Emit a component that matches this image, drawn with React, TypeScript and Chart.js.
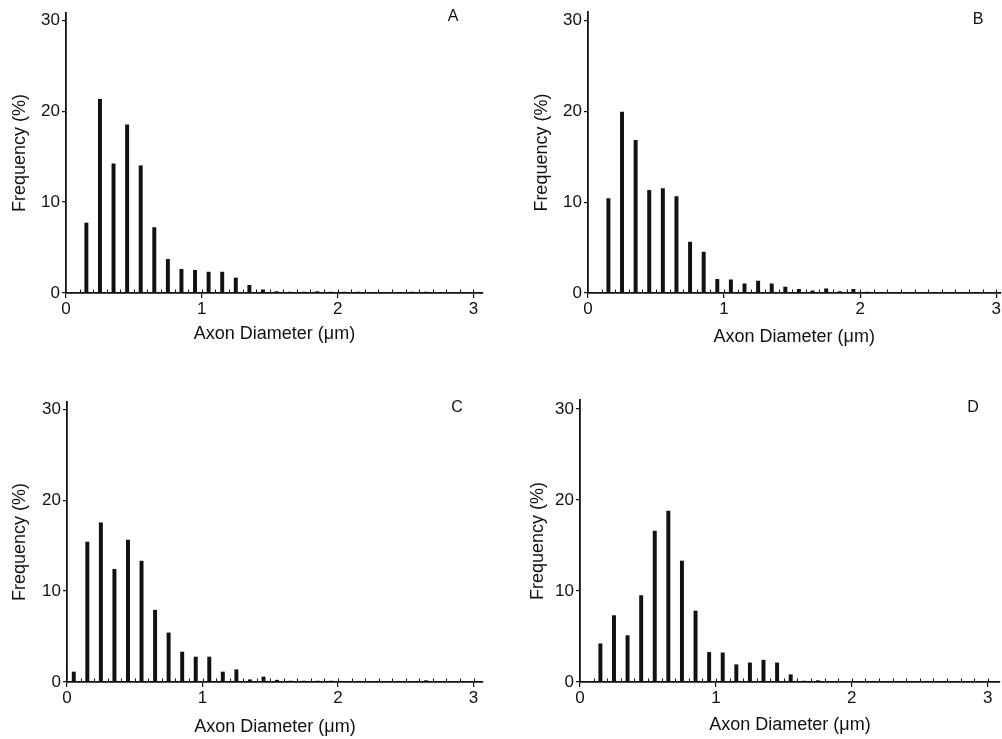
import React, { useEffect, useRef } from "react";
import { Chart, registerables } from "chart.js";

Chart.register(...registerables);

// ---------- data ----------
const binCenters = [
  0.05, 0.15, 0.25, 0.35, 0.45, 0.55, 0.65, 0.75, 0.85, 0.95,
  1.05, 1.15, 1.25, 1.35, 1.45, 1.55, 1.65, 1.75, 1.85, 1.95,
  2.05, 2.15, 2.25, 2.35, 2.45, 2.55, 2.65, 2.75, 2.85, 2.95,
];

const freqA = [
  0, 7.7, 21.3, 14.2, 18.5, 14.0, 7.2, 3.7, 2.6, 2.5,
  2.3, 2.3, 1.65, 0.85, 0.35, 0.15, 0.1, 0.1, 0.15, 0.1,
  0.1, 0.1, 0.05, 0.05, 0.05, 0.1, 0.1, 0.05, 0.05, 0.05,
];
const freqB = [
  0, 10.4, 19.9, 16.8, 11.3, 11.5, 10.6, 5.6, 4.5, 1.5,
  1.45, 1.0, 1.3, 1.0, 0.65, 0.4, 0.25, 0.45, 0.15, 0.4,
  0.1, 0.05, 0.05, 0.05, 0.05, 0.05, 0.05, 0.05, 0.05, 0.05,
];
const freqC = [
  1.1, 15.4, 17.5, 12.4, 15.6, 13.3, 7.9, 5.4, 3.3, 2.75,
  2.75, 1.1, 1.35, 0.25, 0.55, 0.2, 0.1, 0.1, 0.1, 0.1,
  0.05, 0.05, 0.05, 0.05, 0.05, 0.05, 0.15, 0.05, 0.05, 0.05,
];
const freqD = [
  0, 4.2, 7.3, 5.1, 9.5, 16.6, 18.8, 13.3, 7.8, 3.25,
  3.2, 1.9, 2.1, 2.4, 2.1, 0.8, 0.1, 0.15, 0.05, 0.05,
  0.05, 0.05, 0.05, 0.05, 0.05, 0.05, 0.05, 0.05, 0.05, 0.05,
];

const xTickValues = [0, 1, 2, 3];
const yTickValues = [0, 10, 20, 30];
const panelLetters = ["A", "B", "C", "D"];
const xTitleText = "Axon Diameter (\u03bcm)";
const yTitleText = "Frequency (%)";

// ---------- layout ----------
const FONT = '"Liberation Sans", Helvetica, Arial, sans-serif';
const INK = "#111";

type PanelLayout = {
  left: number; top: number; width: number; height: number;
  padTop: number; padRight: number;
  yWidth: number; xHeight: number;
  xMax: number; yMax: number;
  yTitlePad: number; xTitlePad: number;
  letterX: number; letterY: number;
};

const layouts: PanelLayout[] = [
  { left: 0, top: 0, width: 500, height: 350, padTop: 13, padRight: 17, yWidth: 66, xHeight: 57,
    xMax: 3.07, yMax: 30.8, yTitlePad: 9, xTitlePad: 5, letterX: 453, letterY: 16 },
  { left: 520, top: 0, width: 482, height: 350, padTop: 12, padRight: 0, yWidth: 68, xHeight: 57,
    xMax: 3.03, yMax: 30.9, yTitlePad: 11, xTitlePad: 2, letterX: 978, letterY: 19 },
  { left: 0, top: 370, width: 500, height: 369, padTop: 32, padRight: 17, yWidth: 67, xHeight: 57,
    xMax: 3.07, yMax: 30.8, yTitlePad: 9, xTitlePad: 1, letterX: 457, letterY: 407 },
  { left: 520, top: 370, width: 482, height: 369, padTop: 30, padRight: 2, yWidth: 60, xHeight: 57,
    xMax: 3.09, yMax: 31.0, yTitlePad: 7, xTitlePad: 3, letterX: 973, letterY: 407 },
];

const seriesList = [freqA, freqB, freqC, freqD];

const minorTickPlugin = {
  id: "minorTicks",
  afterDraw(chart: any) {
    const xs = chart.scales.x;
    const ys = chart.scales.y;
    const ctx = chart.ctx;
    const y0 = ys.getPixelForValue(0);
    ctx.save();
    ctx.strokeStyle = INK;
    ctx.lineWidth = 1;
    for (let k = 1; k <= 30; k++) {
      const px = Math.round(xs.getPixelForValue(k / 10)) + 0.5;
      ctx.beginPath();
      ctx.moveTo(px, y0);
      ctx.lineTo(px, y0 - 3.5);
      ctx.stroke();
    }
    ctx.restore();
  },
};

function Panel({ layout, values }: { layout: PanelLayout; values: number[] }) {
  const ref = useRef<HTMLCanvasElement | null>(null);
  useEffect(() => {
    if (!ref.current) return;
    const tickFont = { family: FONT, size: 17 };
    const titleFont = { family: FONT, size: 18 };
    const chart = new Chart(ref.current, {
      type: "bar",
      data: {
        datasets: [
          {
            data: binCenters.map((x, i) => ({ x, y: values[i] })),
            backgroundColor: INK,
            borderWidth: 0,
            barThickness: 3.3,
          } as any,
        ],
      },
      options: {
        animation: false,
        responsive: false,
        maintainAspectRatio: false,
        layout: { padding: { top: layout.padTop, right: layout.padRight, left: 0, bottom: 0 } },
        plugins: { legend: { display: false }, tooltip: { enabled: false } },
        scales: {
          x: {
            type: "linear",
            min: 0,
            max: layout.xMax,
            offset: false,
            afterBuildTicks: (s: any) => { s.ticks = xTickValues.map((v) => ({ value: v })); },
            afterFit: (s: any) => { s.height = layout.xHeight; },
            grid: { offset: false, drawOnChartArea: false, drawTicks: true, tickLength: 5, color: INK, lineWidth: 1.2 },
            border: { display: true, color: INK, width: 1.8 },
            ticks: { color: INK, font: tickFont, padding: 1, maxRotation: 0, autoSkip: false },
            title: { display: true, text: xTitleText, color: INK, font: titleFont, padding: { top: 0, bottom: layout.xTitlePad } },
          },
          y: {
            type: "linear",
            min: 0,
            max: layout.yMax,
            afterBuildTicks: (s: any) => { s.ticks = yTickValues.map((v) => ({ value: v })); },
            afterFit: (s: any) => { s.width = layout.yWidth; },
            grid: { drawOnChartArea: false, drawTicks: true, tickLength: 4, color: INK, lineWidth: 1.2 },
            border: { display: true, color: INK, width: 1.8 },
            ticks: { color: INK, font: tickFont, padding: 2, autoSkip: false },
            title: { display: true, text: yTitleText, color: INK, font: titleFont, padding: { top: layout.yTitlePad, bottom: 0 } },
          },
        },
      } as any,
      plugins: [minorTickPlugin],
    });
    return () => chart.destroy();
  }, [layout, values]);
  return (
    <canvas
      ref={ref}
      width={layout.width}
      height={layout.height}
      style={{ position: "absolute", left: layout.left, top: layout.top, width: layout.width, height: layout.height }}
    />
  );
}

export default function App() {
  return (
    <div style={{ position: "absolute", left: 0, top: 0, width: 1002, height: 739, background: "#fff", overflow: "hidden" }}>
      {layouts.map((l, i) => (
        <React.Fragment key={i}>
          <Panel layout={l} values={seriesList[i]} />
          <div
            style={{
              position: "absolute",
              left: l.letterX - 10,
              top: l.letterY - 10,
              width: 20,
              height: 20,
              lineHeight: "20px",
              textAlign: "center",
              fontFamily: FONT,
              fontSize: 16,
              color: INK,
            }}
          >
            {panelLetters[i]}
          </div>
        </React.Fragment>
      ))}
    </div>
  );
}
